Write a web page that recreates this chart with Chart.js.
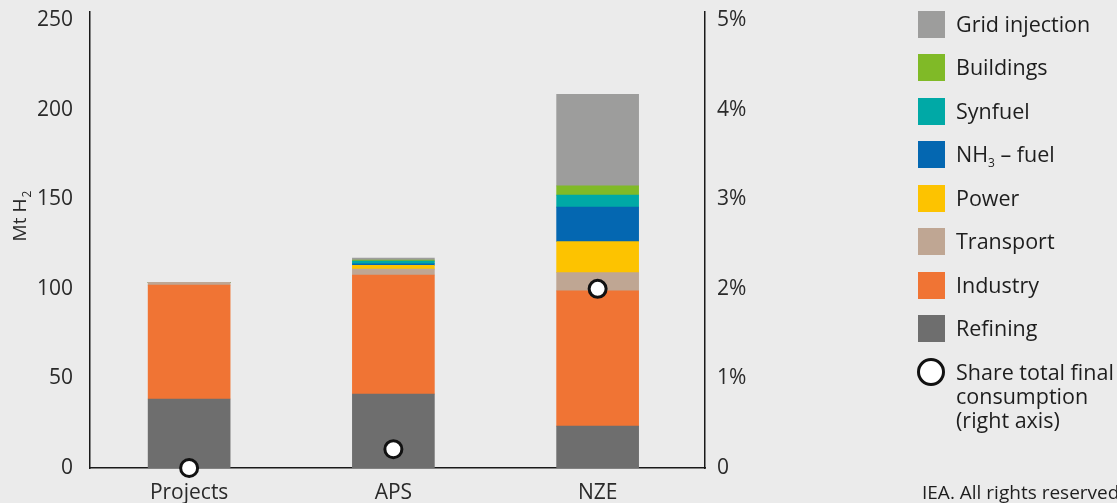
<!DOCTYPE html>
<html>
<head>
<meta charset="utf-8">
<script src="https://cdn.jsdelivr.net/npm/chart.js@4.4.1/dist/chart.umd.min.js"></script>
<style>
  html, body { margin:0; padding:0; background:#ebebeb; }
  body { width:1117px; height:503px; position:relative; overflow:hidden; font-family:'Open Sans', sans-serif; color:#1e1e1e; }
  #wrap { position:absolute; left:0; top:0; width:1117px; height:503px; }
  .leg { position:absolute; left:918px; font-size:21.5px; line-height:24px; white-space:nowrap; }
  .leg .sw { position:absolute; left:0; width:27px; height:27px; }
  .leg .tx { position:absolute; left:38px; }
  .circ { position:absolute; left:917px; width:22px; height:22px; border:3.5px solid #111; border-radius:50%; background:#fff; }
  .note { position:absolute; left:922px; top:479px; font-size:19px; white-space:nowrap; color:#1e1e1e; }
</style>
</head>
<body>
<div id="wrap"><canvas id="c" width="1117" height="503"></canvas></div>
<div id="legend"></div>
<div class="note">IEA. All rights reserved.</div>
<script>
const categories = ['Projects', 'APS', 'NZE'];
const refining  = [38.5, 41.3, 23.4];
const industry  = [63.6, 66.4, 75.5];
const transport = [1.5, 3.3, 10.1];
const power     = [0, 2.1, 17.3];
const nh3Fuel   = [0, 0.9, 19.3];
const synfuel   = [0, 1.5, 6.7];
const buildings = [0, 0.6, 5.2];
const gridInj   = [0, 1.1, 51.0];
const shareTFC  = [0, 0.21, 2.0];
const leftTicks = [0, 50, 100, 150, 200, 250];
const rightTicks = [0, 1, 2, 3, 4, 5];

const colors = {
  refining:'#6e6e6e', industry:'#f07434', transport:'#bfa693', power:'#fdc300',
  nh3:'#0467b1', synfuel:'#00a9a6', buildings:'#80ba27', grid:'#9d9d9c'
};

const FONT = "'Open Sans', sans-serif";
const TXT = '#2a2a2a';
const LMAX = 254.5;
const RMAX = 5 * LMAX / 250;

function bar(label, data, color) {
  return { type:'bar', label, data, backgroundColor: color, borderWidth:0, barThickness:82, order:2, yAxisID:'y' };
}

const titlePlugin = {
  id:'ytitle',
  afterDraw(chart) {
    const ctx = chart.ctx;
    ctx.save();
    ctx.translate(21, 216);
    ctx.rotate(-Math.PI/2);
    ctx.fillStyle = TXT;
    ctx.textBaseline = 'middle';
    ctx.font = "19px " + FONT;
    const main = 'Mt H';
    const w = ctx.measureText(main).width;
    ctx.textAlign = 'left';
    ctx.fillText(main, -w/2 - 4, 0);
    ctx.font = "12px " + FONT;
    ctx.fillText('2', w/2 - 3, 7);
    ctx.restore();
  }
};

// category band of the reference sits slightly left of the axis frame
const bandPlugin = {
  id:'band',
  afterLayout(chart) {
    const s = chart.scales.x;
    s._startPixel = 87;
    s._length = 612.75;
    s._endPixel = 87 + 612.75;
  }
};

function noPad(s) { s.paddingTop = 0; s.paddingBottom = 0; s.paddingLeft = 0; s.paddingRight = 0; }

new Chart(document.getElementById('c'), {
  data: {
    labels: categories,
    datasets: [
      bar('Refining', refining, colors.refining),
      bar('Industry', industry, colors.industry),
      bar('Transport', transport, colors.transport),
      bar('Power', power, colors.power),
      bar('NH3 – fuel', nh3Fuel, colors.nh3),
      bar('Synfuel', synfuel, colors.synfuel),
      bar('Buildings', buildings, colors.buildings),
      bar('Grid injection', gridInj, colors.grid),
      { type:'line', label:'Share total final consumption (right axis)', data: shareTFC, yAxisID:'y2',
        showLine:false, pointRadius:8.5, pointHoverRadius:8.5, pointBorderWidth:3, pointBackgroundColor:'#ffffff',
        pointBorderColor:'#111111', order:0, clip:false }
    ]
  },
  options: {
    responsive:false,
    animation:false,
    events:[],
    layout:{ padding:{ top:12, left:0, right:0, bottom:0 } },
    plugins:{ legend:{ display:false }, tooltip:{ enabled:false } },
    scales:{
      x:{
        stacked:true,
        grid:{ display:false, drawTicks:false },
        border:{ display:true, color:'#1a1a1a', width:1.5 },
        ticks:{ color:TXT, font:{ family:FONT, size:21 }, padding:12, maxRotation:0 },
        afterFit(s){ s.height = 35; noPad(s); }
      },
      y:{
        stacked:true, position:'left', min:0, max:LMAX,
        grid:{ display:false, drawTicks:false },
        border:{ display:true, color:'#1a1a1a', width:1.5 },
        ticks:{ color:TXT, font:{ family:FONT, size:21 }, padding:17 },
        afterBuildTicks(s){ s.ticks = leftTicks.map(v => ({ value:v })); },
        afterFit(s){ s.width = 90; noPad(s); }
      },
      y2:{
        stacked:false, position:'right', min:0, max:RMAX,
        grid:{ display:false, drawTicks:false },
        border:{ display:true, color:'#1a1a1a', width:1.5 },
        ticks:{ color:TXT, font:{ family:FONT, size:21 }, padding:12, callback:(v) => v === 0 ? '0' : v + '%' },
        afterBuildTicks(s){ s.ticks = rightTicks.map(v => ({ value:v })); },
        afterFit(s){ s.width = 412; noPad(s); }
      }
    }
  },
  plugins:[titlePlugin, bandPlugin]
});

// HTML legend
const legendItems = [
  ['Grid injection', colors.grid],
  ['Buildings', colors.buildings],
  ['Synfuel', colors.synfuel],
  ['NH<sub style="font-size:12px;vertical-align:-5px;">3</sub> – fuel', colors.nh3],
  ['Power', colors.power],
  ['Transport', colors.transport],
  ['Industry', colors.industry],
  ['Refining', colors.refining]
];
const lg = document.getElementById('legend');
legendItems.forEach((it, i) => {
  const cy = 24 + i * 43.5;
  const d = document.createElement('div');
  d.className = 'leg';
  d.style.top = (cy - 13.5) + 'px';
  d.innerHTML = '<div class="sw" style="background:' + it[1] + '"></div><div class="tx" style="top:1px">' + it[0] + '</div>';
  lg.appendChild(d);
});
const c = document.createElement('div');
c.className = 'circ';
c.style.top = (372 - 14.5) + 'px';
lg.appendChild(c);
const st = document.createElement('div');
st.className = 'leg';
st.style.top = (372 - 12) + 'px';
st.innerHTML = '<div class="tx" style="top:0">Share total final<br>consumption<br>(right axis)</div>';
lg.appendChild(st);
</script>
</body>
</html>
